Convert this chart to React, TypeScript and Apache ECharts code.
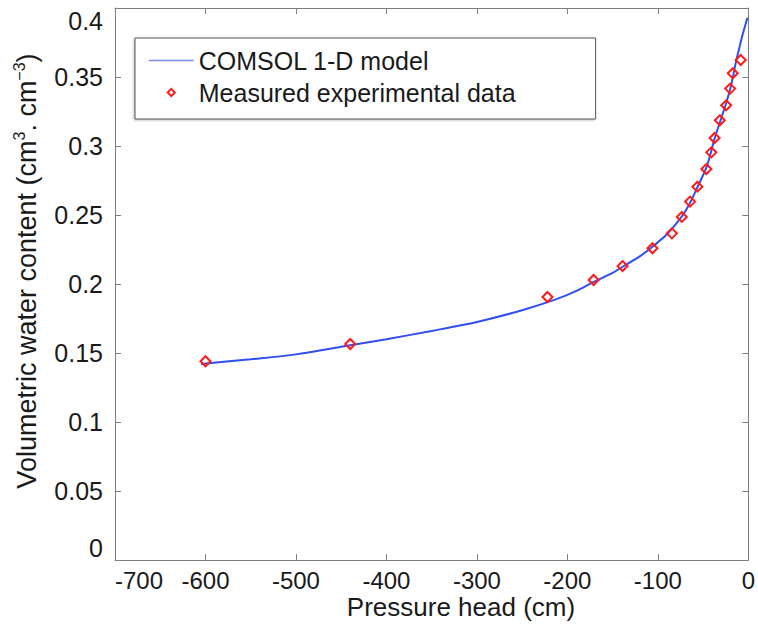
import React, { useEffect, useRef } from "react";
import * as echarts from "echarts";

const modelHead = [-605, -550, -500, -450, -400, -350, -300, -250, -212, -190, -171, -150, -139, -120, -106, -90, -73.5, -65, -56, -46, -37, -30, -24.5, -19, -14, -10, -7, -4, -1];
const modelTheta = [0.142, 0.1455, 0.149, 0.1545, 0.16, 0.166, 0.1725, 0.181, 0.189, 0.195, 0.2015, 0.208, 0.2125, 0.22, 0.227, 0.236, 0.249, 0.258, 0.2705, 0.285, 0.306, 0.32, 0.331, 0.344, 0.36, 0.371, 0.379, 0.386, 0.393];

const measHead = [-600, -440, -222, -171, -139, -106, -84.5, -73.5, -64.4, -56.3, -46.4, -40.9, -37.3, -31.5, -24.5, -20.1, -17.2, -8.4];
const measTheta = [0.144, 0.1565, 0.1906, 0.2029, 0.213, 0.2259, 0.2367, 0.2486, 0.2597, 0.2705, 0.2833, 0.2954, 0.3058, 0.3186, 0.3295, 0.3416, 0.3527, 0.3623];

const xTicks = { min: -700, max: 0, interval: 100 };
const yTicks = { min: 0, max: 0.4, interval: 0.05 };

const seriesNames = ["COMSOL 1-D model", "Measured experimental data"];
const xTitle = "Pressure head (cm)";
const yTitle = "Volumetric water content (cm{s|3}. cm{s|−3})";

const FONT = "'Liberation Sans', Arial, Helvetica, sans-serif";
const AXIS_COLOR = "#808080";
const TEXT_COLOR = "#1a1a1a";
const RED = "#ff1a1a";

export default function App() {
  const ref = useRef<HTMLDivElement>(null);
  useEffect(() => {
    if (!ref.current) return;
    const chart = echarts.init(ref.current, undefined, { renderer: "svg" });
    const axisCommon = {
      axisLine: { show: true, onZero: false, lineStyle: { color: AXIS_COLOR, width: 1 } },
      axisTick: { show: true, inside: true, length: 6, lineStyle: { color: AXIS_COLOR } },
      splitLine: { show: false },
    };
    chart.setOption({
      animation: false,
      backgroundColor: "#ffffff",
      grid: { left: 115, top: 8, right: 5, bottom: 66, containLabel: false },
      xAxis: [
        {
          type: "value",
          position: "bottom",
          ...xTicks,
          ...axisCommon,
          axisLabel: { fontSize: 24, color: TEXT_COLOR, fontFamily: FONT, margin: 8, alignMinLabel: "left" },
        },
        {
          type: "value",
          position: "top",
          ...xTicks,
          ...axisCommon,
          axisLabel: { show: false },
        },
      ],
      yAxis: [
        {
          type: "value",
          position: "left",
          ...yTicks,
          ...axisCommon,
          axisLabel: {
            fontSize: 25,
            color: TEXT_COLOR,
            fontFamily: FONT,
            margin: 12,
            verticalAlignMaxLabel: "top",
            verticalAlignMinLabel: "bottom",
          },
        },
        {
          type: "value",
          position: "right",
          ...yTicks,
          ...axisCommon,
          axisLabel: { show: false },
        },
      ],
      legend: {
        orient: "vertical",
        left: 135,
        top: 38,
        padding: [10, 80, 14, 13],
        itemGap: 7,
        itemWidth: 45,
        itemHeight: 9,
        backgroundColor: "#ffffff",
        borderColor: "#555555",
        borderWidth: 1,
        shadowColor: "rgba(0,0,0,0.25)",
        shadowBlur: 2,
        shadowOffsetX: -1,
        shadowOffsetY: 1,
        textStyle: { fontSize: 25, color: TEXT_COLOR, fontFamily: FONT },
        data: [
          {
            name: seriesNames[0],
            lineStyle: { width: 1.5, color: "#7a8cf2" },
            itemStyle: { color: "rgba(0,0,0,0)", borderWidth: 0, opacity: 0 },
          },
          {
            name: seriesNames[1],
            lineStyle: { opacity: 0, width: 0 },
            itemStyle: { color: "rgba(0,0,0,0)", borderColor: RED, borderWidth: 2 },
          },
        ],
      },
      graphic: [
        {
          type: "text",
          x: 461,
          y: 607,
          style: {
            text: xTitle,
            fontSize: 26,
            fontFamily: FONT,
            fill: TEXT_COLOR,
            align: "center",
            verticalAlign: "middle",
          },
        },
        {
          type: "text",
          x: 27,
          y: 271,
          rotation: Math.PI / 2,
          style: {
            text: yTitle,
            fontSize: 27,
            fontFamily: FONT,
            fill: TEXT_COLOR,
            align: "center",
            verticalAlign: "middle",
            lineHeight: 32,
            rich: {
              s: { fontSize: 16, fontFamily: FONT, fill: TEXT_COLOR, verticalAlign: "top", lineHeight: 32 },
            },
          },
        },
      ],
      series: [
        {
          name: seriesNames[0],
          type: "line",
          xAxisIndex: 0,
          yAxisIndex: 0,
          symbol: "none",
          smooth: 0.3,
          lineStyle: { color: "#2f4ff0", width: 2 },
          data: modelHead.map((h, i) => [h, modelTheta[i]]),
          z: 2,
        },
        {
          name: seriesNames[1],
          type: "line",
          xAxisIndex: 0,
          yAxisIndex: 0,
          symbol: "diamond",
          symbolSize: 10,
          showSymbol: true,
          showAllSymbol: true,
          lineStyle: { opacity: 0, width: 0 },
          itemStyle: { color: "rgba(255,255,255,0)", borderColor: RED, borderWidth: 2 },
          data: measHead.map((h, i) => [h, measTheta[i]]),
          z: 3,
        },
      ],
    });
    return () => chart.dispose();
  }, []);
  return (
    <div
      ref={ref}
      style={{ position: "absolute", left: 0, top: 0, width: 758, height: 626 }}
    />
  );
}
